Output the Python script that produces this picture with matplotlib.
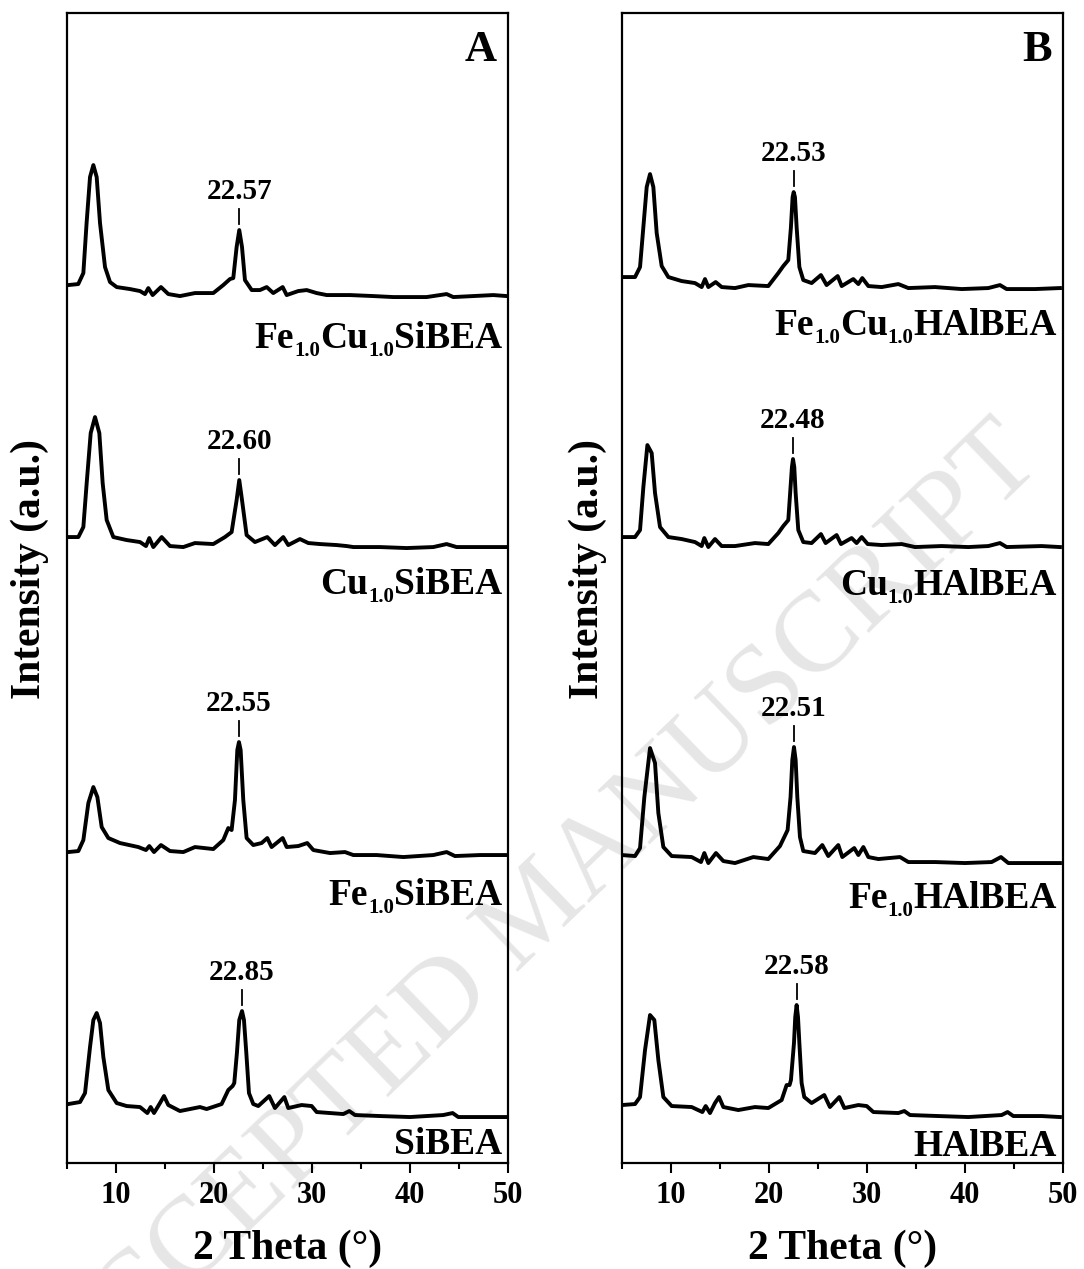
import matplotlib
matplotlib.use("Agg")
import matplotlib.pyplot as plt
from matplotlib.ticker import MultipleLocator
from matplotlib.transforms import ScaledTranslation
import numpy as np

plt.rcParams['font.family'] = ['Liberation Serif', 'DejaVu Serif']
plt.rcParams['font.weight'] = 'bold'

# ---------------- panel A : Si-BEA series (offset intensities, a.u.) ----------------
tt_fecu_si = [5.13, 6.15, 6.67, 7.0, 7.35, 7.69, 8.03, 8.37, 8.88, 9.39, 10.07, 11.43, 12.45, 12.96,
              13.3, 13.74, 14.59, 15.34, 16.53, 18.06, 19.93, 20.95, 21.63, 21.97, 22.31, 22.58,
              22.86, 23.16, 23.85, 24.69, 25.38, 26.05, 27.01, 27.42, 28.6, 29.46, 30.48, 31.5,
              33.88, 36.26, 38.3, 41.7, 43.74, 44.42, 48.5, 49.87]
in_fecu_si = [878, 879, 890, 940, 986, 998, 986, 940, 896, 881, 876, 874, 872, 869,
              875, 868, 876, 869, 867, 870, 870, 878, 884, 885, 916, 933,
              916, 883, 873, 873, 876, 870, 876, 868, 872, 873, 870, 868,
              868, 867, 866, 866, 869, 866, 868, 867]

tt_cu_si = [5.14, 6.16, 6.67, 7.01, 7.42, 7.86, 8.3, 8.64, 9.05, 9.73, 11.09, 12.45, 13.06, 13.4,
            13.81, 14.66, 15.51, 16.87, 18.06, 19.93, 21.12, 21.8, 22.31, 22.58, 22.86, 23.33,
            24.18, 25.44, 26.22, 27.07, 27.58, 28.77, 29.63, 30.82, 32.52, 33.54, 34.22, 36.94,
            39.66, 42.38, 43.74, 44.76, 47.14, 49.86]
in_cu_si = [626, 626, 636, 680, 730, 746, 730, 680, 643, 626, 623, 621, 617, 625,
            616, 626, 617, 616, 620, 619, 626, 631, 663, 683, 663, 628,
            621, 626, 618, 626, 618, 624, 620, 619, 618, 617, 616, 616,
            615, 616, 619, 616, 616, 616]

tt_fe_si = [5.14, 6.16, 6.67, 7.18, 7.69, 8.1, 8.54, 9.22, 10.41, 12.28, 13.06, 13.4, 13.88, 14.59,
            15.51, 16.87, 18.06, 19.93, 20.95, 21.46, 21.8, 22.14, 22.38, 22.55, 22.72, 22.99,
            23.33, 24.01, 24.86, 25.44, 25.88, 27.01, 27.42, 28.6, 29.52, 30.14, 31.84, 33.37,
            34.22, 36.6, 39.32, 42.38, 43.74, 44.59, 47.14, 49.86]
in_fe_si = [311, 312, 323, 360, 376, 366, 336, 325, 320, 316, 313, 317, 311, 318,
            312, 311, 316, 314, 323, 335, 333, 363, 413, 421, 413, 363,
            325, 318, 320, 325, 316, 325, 316, 317, 320, 313, 310, 311,
            308, 308, 306, 308, 311, 307, 308, 308]

tt_si = [5.14, 6.33, 6.84, 7.35, 7.69, 8.03, 8.37, 8.71, 9.22, 10.07, 11.09, 12.45, 13.2, 13.54,
         13.88, 14.49, 14.9, 15.34, 16.53, 18.57, 19.25, 20.78, 21.46, 21.9, 22.07, 22.34, 22.58,
         22.86, 23.06, 23.3, 23.57, 24.01, 24.52, 25.64, 26.22, 27.18, 27.58, 28.94, 29.97, 30.48,
         31.84, 33.2, 33.81, 34.39, 36.94, 40.0, 43.4, 44.35, 44.93, 47.48, 49.86]
in_si = [59, 61, 70, 116, 143, 150, 140, 106, 73, 60, 57, 56, 50, 56,
         50, 60, 67, 58, 52, 56, 54, 59, 73, 77, 80, 110, 143,
         152, 143, 110, 70, 59, 57, 67, 55, 66, 55, 58, 57, 51,
         50, 49, 52, 48, 47, 46, 48, 50, 46, 46, 46]

# ---------------- panel B : HAl-BEA series ----------------
tt_fecu_hal = [5.0, 6.33, 6.84, 7.18, 7.52, 7.86, 8.2, 8.54, 9.05, 9.73, 11.09, 12.45, 13.13, 13.47,
               13.81, 14.56, 15.17, 16.53, 17.89, 19.93, 20.95, 21.46, 21.97, 22.24, 22.41, 22.52,
               22.65, 22.82, 23.1, 23.5, 24.35, 25.3, 25.88, 27.01, 27.42, 28.6, 29.12, 29.52,
               30.14, 31.5, 33.2, 34.22, 36.94, 39.66, 42.38, 43.57, 44.25, 47.14, 49.69]
in_fecu_hal = [886, 886, 896, 936, 976, 989, 976, 930, 897, 886, 882, 880, 876, 884,
               876, 881, 876, 875, 878, 877, 890, 897, 903, 936, 966, 971,
               966, 936, 896, 883, 880, 888, 878, 887, 877, 884, 879, 885,
               877, 876, 879, 875, 876, 874, 875, 878, 874, 874, 875]

tt_cu_hal = [5.0, 6.33, 6.84, 7.18, 7.59, 8.03, 8.37, 8.88, 9.73, 11.09, 12.45, 13.13, 13.4, 13.81,
             14.49, 15.17, 16.53, 18.57, 19.93, 20.95, 21.46, 21.97, 22.2, 22.34, 22.45, 22.58,
             22.72, 22.99, 23.5, 24.35, 25.3, 25.78, 26.9, 27.35, 28.43, 28.94, 29.46, 30.07,
             31.5, 33.54, 34.9, 37.62, 40.34, 42.38, 43.57, 44.25, 47.82, 49.69]
in_cu_hal = [626, 626, 633, 676, 718, 710, 670, 636, 626, 624, 621, 617, 625, 616,
             624, 617, 617, 620, 619, 630, 637, 643, 676, 696, 704, 696,
             670, 633, 621, 620, 629, 620, 628, 619, 625, 620, 626, 619,
             618, 619, 616, 617, 616, 617, 620, 616, 617, 616]

tt_fe_hal = [5.0, 6.33, 6.84, 7.28, 7.86, 8.37, 8.71, 9.22, 10.07, 12.11, 13.06, 13.4, 13.81, 14.59,
             15.34, 16.53, 18.4, 19.93, 21.12, 21.56, 21.9, 22.2, 22.38, 22.55, 22.72, 22.89,
             23.16, 23.5, 24.69, 25.44, 26.05, 27.07, 27.48, 28.7, 29.12, 29.63, 30.14, 31.16,
             33.37, 34.22, 36.94, 40.0, 42.72, 43.67, 44.42, 47.82, 49.69]
in_fe_hal = [308, 307, 315, 366, 415, 400, 350, 316, 307, 306, 301, 310, 300, 310,
             302, 300, 306, 304, 317, 326, 333, 366, 403, 416, 403, 366,
             326, 312, 310, 318, 307, 318, 306, 315, 308, 316, 306, 304,
             306, 301, 301, 300, 301, 306, 300, 300, 300]

tt_hal = [5.0, 6.33, 6.84, 7.35, 7.86, 8.3, 8.71, 9.22, 10.07, 12.11, 13.2, 13.54, 13.98, 14.49,
          14.9, 15.34, 16.87, 18.57, 19.93, 21.29, 21.8, 22.1, 22.24, 22.55, 22.68, 22.82, 22.96,
          23.1, 23.33, 23.6, 24.35, 25.64, 26.22, 27.18, 27.69, 29.12, 29.97, 30.65, 33.2, 33.81,
          34.39, 37.28, 40.34, 43.74, 44.35, 44.93, 47.82, 49.69]
in_hal = [58, 59, 66, 113, 148, 143, 103, 66, 57, 56, 51, 57, 50, 60,
          66, 56, 53, 56, 55, 63, 78, 78, 83, 120, 146, 158, 146,
          120, 80, 66, 60, 68, 56, 66, 55, 58, 57, 51, 50, 52,
          48, 47, 46, 48, 51, 47, 47, 46]

peak_lab_a = ['22.57', '22.60', '22.55', '22.85']
peak_lab_b = ['22.53', '22.48', '22.51', '22.58']
# sample names as (text, is_subscript) pieces
names_a = [[('Fe', 0), ('1.0', 1), ('Cu', 0), ('1.0', 1), ('SiBEA', 0)],
           [('Cu', 0), ('1.0', 1), ('SiBEA', 0)],
           [('Fe', 0), ('1.0', 1), ('SiBEA', 0)],
           [('SiBEA', 0)]]
names_b = [[('Fe', 0), ('1.0', 1), ('Cu', 0), ('1.0', 1), ('HAlBEA', 0)],
           [('Cu', 0), ('1.0', 1), ('HAlBEA', 0)],
           [('Fe', 0), ('1.0', 1), ('HAlBEA', 0)],
           [('HAlBEA', 0)]]
name_y_a = [828, 582, 271, 22]   # label heights (cap middle) in the a.u. of the traces
name_y_b = [841, 581, 268, 20]

series_a = [(tt_fecu_si, in_fecu_si), (tt_cu_si, in_cu_si), (tt_fe_si, in_fe_si), (tt_si, in_si)]
series_b = [(tt_fecu_hal, in_fecu_hal), (tt_cu_hal, in_cu_hal), (tt_fe_hal, in_fe_hal), (tt_hal, in_hal)]

fig = plt.figure(figsize=(10.84, 12.69), dpi=100)

# watermark of the accepted manuscript
fig.text(0.497, 0.28, 'ACCEPTED MANUSCRIPT', rotation=44, fontsize=82, color='#e6e6e6',
         fontweight='normal', ha='center', va='center', zorder=-5)

ax_a = fig.add_axes([0.0618, 0.0835, 0.4068, 0.9062])
ax_b = fig.add_axes([0.5738, 0.0835, 0.4068, 0.9062])
renderer = fig.canvas.get_renderer()


def rich_label(ax, x, y, parts, size=27, sub_size=15, sub_drop=8):
    # right aligned label with real subscripts, y is the baseline
    texts = []
    for s, sub in parts:
        texts.append(ax.text(x, y, s, fontsize=sub_size if sub else size,
                             fontweight='bold', ha='left', va='baseline'))
    widths = [t.get_window_extent(renderer).width for t in texts]
    off = -sum(widths)
    for t, w, (s, sub) in zip(texts, widths, parts):
        dy = -sub_drop if sub else 0
        t.set_transform(ax.transData + ScaledTranslation(off / fig.dpi, dy / fig.dpi,
                                                         fig.dpi_scale_trans))
        off += w


def draw_panel(ax, series, peak_lab, names, name_y, letter, ylab_x):
    ax.patch.set_alpha(0)
    ax.set_xlim(5, 50)
    ax.set_ylim(0, 1150)
    for (tt, inten), plab, nm, ny in zip(series, peak_lab, names, name_y):
        tt = np.array(tt)
        inten = np.array(inten)
        ax.plot(tt, inten, color='k', lw=2.8, solid_joinstyle='round')
        # strongest reflection near 22.5 deg
        sel = (tt > 20) & (tt < 25)
        k = np.argmax(np.where(sel, inten, -1))
        px, py = tt[k], inten[k]
        ax.plot([px, px], [py + 6, py + 21], color='k', lw=1.3)
        ax.text(px, py + 39, plab, ha='center', va='center', fontsize=21, fontweight='bold')
        rich_label(ax, 49.4, ny - 13, nm)
    ax.text(0.975, 0.985, letter, transform=ax.transAxes, ha='right', va='top',
            fontsize=32, fontweight='bold')
    ax.set_yticks([])
    ax.xaxis.set_major_locator(MultipleLocator(10))
    ax.xaxis.set_minor_locator(MultipleLocator(5))
    ax.tick_params(axis='x', which='major', direction='out', length=7, width=1.5,
                   labelsize=22, pad=6)
    ax.tick_params(axis='x', which='minor', direction='out', length=4, width=1.5)
    for lab in ax.get_xticklabels():
        lab.set_fontweight('bold')
    for sp in ax.spines.values():
        sp.set_linewidth(1.6)
    ax.set_xlabel('2 Theta (\u00b0)', fontsize=30, fontweight='bold', labelpad=14)
    ax.set_ylabel('Intensity (a.u.)', fontsize=30, fontweight='bold', va='center')
    ax.yaxis.set_label_coords(ylab_x, 0.517)


draw_panel(ax_a, series_a, peak_lab_a, names_a, name_y_a, 'A', -0.084)
draw_panel(ax_b, series_b, peak_lab_b, names_b, name_y_b, 'B', -0.077)

plt.savefig('out.png', dpi=100)
